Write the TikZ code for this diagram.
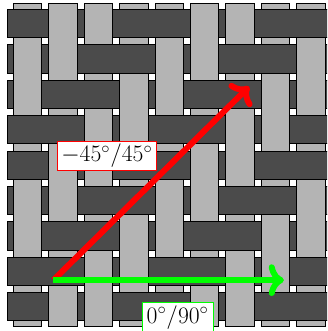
\RequirePackage{fix-cm}
\documentclass[tikz,border=0pt]{standalone}
\usetikzlibrary{arrows.meta}
\definecolor{warpcol} {RGB}{180,180,180}
\definecolor{weftcol} {RGB}{75,75,75}
\definecolor{shearcol}{RGB}{255,0,0}
\definecolor{axialcol}{RGB}{0,255,0}

\begin{document}
\begin{tikzpicture}[line width=0.6pt,
    fibre/.style={->, line width=4.8pt},
    anglelabel/.style={fill=white, line width=0.6pt, inner xsep=3.5pt, inner ysep=2.5pt,
        font=\fontsize{19}{23}\selectfont}]

% Frame of the picture
\useasboundingbox (-0.379,0.263) rectangle (8.858,-9.087);
\clip (-0.379,0.263) rectangle (8.858,-9.087);

% ================================================================
% WEFT (dark) --- full horizontal strips
% ================================================================
\foreach \ry in {0,...,8}
    \draw[fill=weftcol] (-0.16,-\ry) rectangle (9.2,-\ry-0.8);

% ================================================================
% WARP (light) --- full vertical strips
% ================================================================
\foreach \cx in {0,...,8}
    \draw[fill=warpcol] (\cx,0.16) rectangle (\cx+0.8,-8.96);

% ================================================================
% 2/2 twill --- weft back on top where (col+row) mod 4 is 0 or 3
% ================================================================
\foreach \ry in {0,...,8} {
    \foreach \cx in {0,...,8} {
        \pgfmathtruncatemacro{\wsum}{mod(\cx+\ry+1,4)}
        \pgfmathsetmacro{\xa}{\cx-0.02}
        \pgfmathsetmacro{\xb}{\cx+0.82}
        \pgfmathsetmacro{\ya}{-\ry}
        \pgfmathsetmacro{\yb}{-\ry-0.8}
        \ifnum\wsum<2
            \fill[weftcol] (\xa,\ya) rectangle (\xb,\yb);
            \draw (\xa,\ya) -- (\xb,\ya) (\xa,\yb) -- (\xb,\yb);
        \fi
    }
}

% ================================================================
% Fibre directions
% ================================================================
\coordinate (origin)   at (1.13,-7.65);
\coordinate (sheartip) at (6.66,-2.18);
\coordinate (axialtip) at (7.64,-7.65);

\draw[fibre, shearcol] (origin) -- (sheartip);
\draw[fibre, axialcol] (origin) -- (axialtip);

\node[anglelabel, draw=shearcol] (shearlabel) at (2.64,-4.14) {$-45^\circ/45^\circ$};
\node[anglelabel, draw=axialcol] (axiallabel) at (4.64,-8.70) {$0^\circ/90^\circ$};

\end{tikzpicture}
\end{document}
